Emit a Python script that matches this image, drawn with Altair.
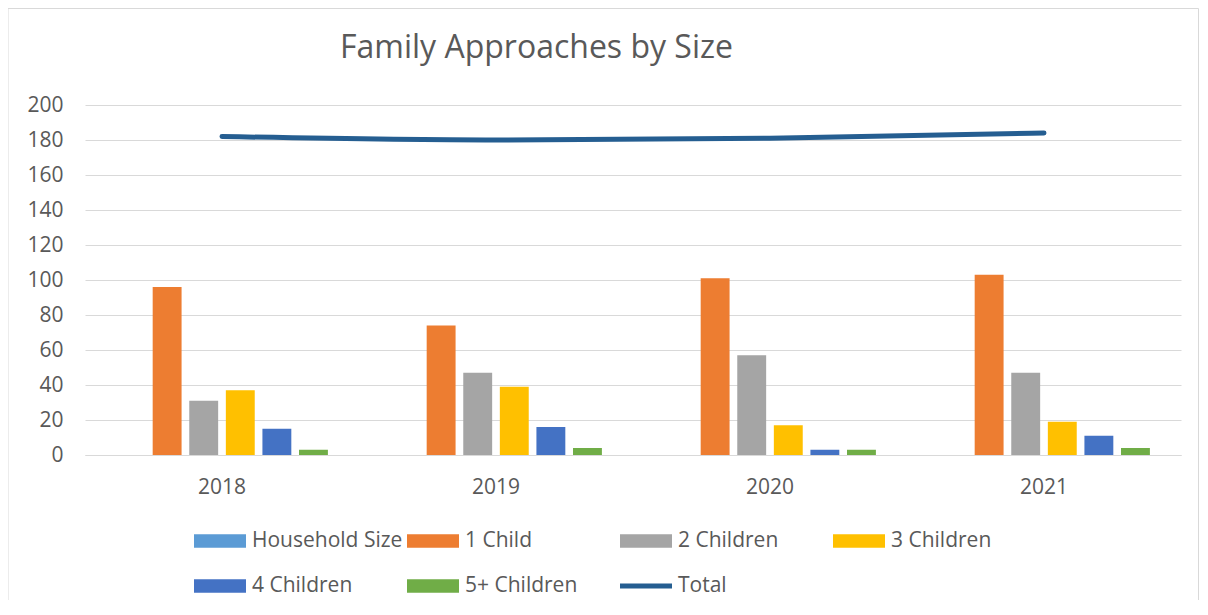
import altair as alt
import pandas as pd

# ---- data ----
years = ["2018", "2019", "2020", "2021"]
series_names = ["Household Size", "1 Child", "2 Children", "3 Children", "4 Children", "5+ Children"]
household_size = [None, None, None, None]
one_child = [96, 74, 101, 103]
two_children = [31, 47, 57, 47]
three_children = [37, 39, 17, 19]
four_children = [15, 16, 3, 11]
five_plus = [3, 4, 3, 4]
total = [182, 180, 181, 184]

series_values = [household_size, one_child, two_children, three_children, four_children, five_plus]
legend_domain = series_names + ["Total"]
palette = ["#5B9BD5", "#ED7D31", "#A5A5A5", "#FFC000", "#4472C4", "#70AD47", "#255E91"]

rows = []
for name, vals in zip(series_names, series_values):
    for yr, v in zip(years, vals):
        rows.append({"year": yr, "series": name, "value": v})
bars_df = pd.DataFrame(rows)
total_df = pd.DataFrame({"year": years, "total": total})

text_color = "#595959"
grid_color = "#D9D9D9"
font = "Open Sans"

rect_path = "M-1,-0.258L1,-0.258L1,0.258L-1,0.258Z"
line_path = "M-1,-0.1L1,-0.1L1,0.1L-1,0.1Z"

color_scale = alt.Scale(domain=legend_domain, range=palette)
shape_scale = alt.Scale(domain=legend_domain, range=[rect_path] * 6 + [line_path])

legend = alt.Legend(
    title=None, orient="none", legendX=109, legendY=410, direction="horizontal",
    columns=4, gridAlign="all", symbolSize=2704, symbolStrokeWidth=0, symbolOpacity=1,
    labelFontSize=21, labelFont=font, labelColor=text_color, labelOffset=6,
    rowPadding=9, columnPadding=4, labelLimit=400, padding=0,
)

x_scale = alt.Scale(paddingInner=0.227, paddingOuter=0.1135)
x_axis = alt.Axis(title=None, labelAngle=0, ticks=False, domainColor=grid_color,
                  domainWidth=1, grid=False, labelPadding=21)
y_axis = alt.Axis(title=None, values=list(range(0, 201, 20)), grid=True, gridColor=grid_color,
                  domain=False, ticks=False, labelPadding=22)

border = alt.Chart(alt.Data(values=[{}])).mark_rect(
    fill="white", fillOpacity=0, stroke=grid_color, strokeWidth=1, clip=False
).encode(x=alt.value(-77), x2=alt.value(1113.5), y=alt.value(-96.5), y2=alt.value(560))

bars = alt.Chart(bars_df).mark_bar().encode(
    x=alt.X("year:N", scale=x_scale, axis=x_axis),
    xOffset=alt.XOffset("series:N", scale=alt.Scale(domain=series_names, paddingInner=0.21, paddingOuter=0)),
    y=alt.Y("value:Q", scale=alt.Scale(domain=[0, 200]), axis=y_axis),
    color=alt.Color("series:N", scale=color_scale, legend=legend),
)

line = alt.Chart(total_df).mark_line(
    color="#255E91", strokeWidth=5, interpolate="monotone", strokeCap="round"
).encode(
    x=alt.X("year:N", scale=x_scale, axis=x_axis),
    y=alt.Y("total:Q", scale=alt.Scale(domain=[0, 200]), axis=y_axis),
)

legend_layer = alt.Chart(bars_df).mark_point(filled=True, opacity=1).encode(
    x=alt.X("year:N", scale=x_scale, axis=x_axis),
    y=alt.Y("value:Q", scale=alt.Scale(domain=[0, 200]), axis=y_axis),
    color=alt.Color("series:N", scale=color_scale, legend=legend),
    shape=alt.Shape("series:N", scale=shape_scale, legend=legend),
).transform_filter("false")

chart = alt.layer(border, bars, line, legend_layer).properties(
    width=1096, height=350,
    autosize=alt.AutoSizeParams(type="none"),
    padding={"left": 77, "top": 97, "right": 19, "bottom": 145},
    title=alt.Title("Family Approaches by Size", anchor="start", frame="group", dx=255, dy=82,
                    baseline="alphabetic", fontSize=32, font=font, fontWeight="normal",
                    color=text_color, offset=0),
).configure_view(stroke=None).configure_axis(
    labelFont=font, labelFontSize=21, labelColor=text_color
)

chart.save("out.html", embed_options={"renderer": "svg", "actions": False})
